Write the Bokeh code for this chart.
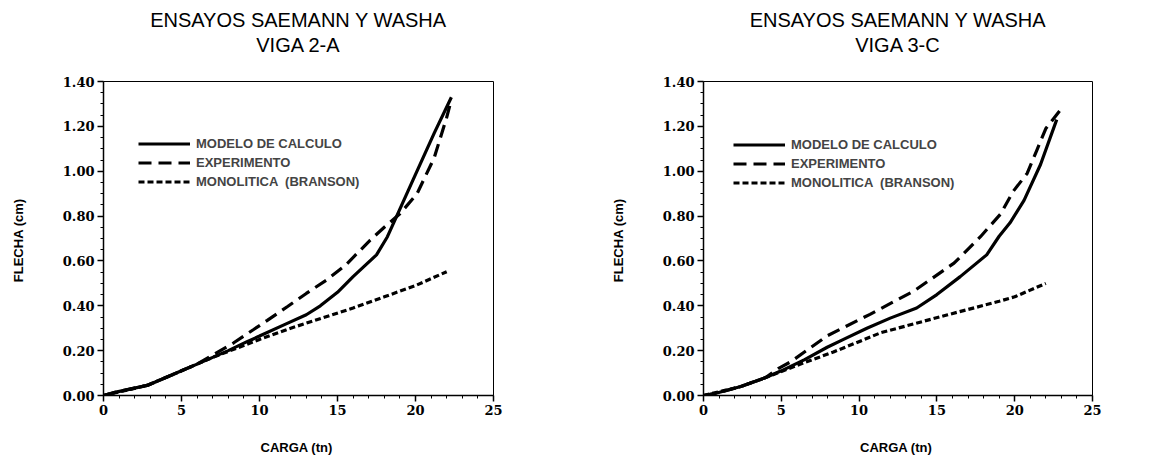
from bokeh.plotting import figure
from bokeh.layouts import row
from bokeh.models import (Range1d, Title, Legend, LegendItem, PrintfTickFormatter, FixedTicker,
                          LinearAxis)
from bokeh.embed import file_html
from bokeh.resources import INLINE

# ---- data: VIGA 2-A ----
a_mod_x = [0, 0.8, 2.8, 4, 5, 6, 7, 8, 9.2, 10, 11.6, 13, 13.9, 15, 16, 17.5, 18.2, 18.6, 19.9, 21.2, 22.3]
a_mod_y = [0, 0.015, 0.045, 0.08, 0.11, 0.14, 0.17, 0.20, 0.24, 0.265, 0.316, 0.36, 0.40, 0.46, 0.53, 0.627, 0.708, 0.77, 0.97, 1.17, 1.33]
a_exp_x = [0, 0.8, 2.8, 4, 5, 6, 7, 8.35, 9.6, 10.5, 11.8, 13, 14.3, 15.5, 17.1, 18, 19, 20.1, 21.2, 22.0, 22.3]
a_exp_y = [0, 0.015, 0.045, 0.08, 0.11, 0.14, 0.18, 0.235, 0.293, 0.335, 0.397, 0.455, 0.515, 0.58, 0.693, 0.75, 0.81, 0.90, 1.06, 1.24, 1.32]
a_bra_x = [0, 2.8, 5, 7, 8.5, 10, 12, 14, 16, 18, 20, 22]
a_bra_y = [0, 0.045, 0.11, 0.17, 0.21, 0.25, 0.30, 0.345, 0.39, 0.44, 0.49, 0.552]

# ---- data: VIGA 3-C ----
c_mod_x = [0, 0.8, 2.4, 4, 5, 6.5, 7.95, 9, 10.5, 12, 13.7, 15, 16.5, 18.2, 19, 19.7, 20.6, 21.66, 22.7]
c_mod_y = [0, 0.01, 0.04, 0.08, 0.11, 0.16, 0.215, 0.25, 0.30, 0.345, 0.39, 0.45, 0.53, 0.627, 0.71, 0.77, 0.87, 1.03, 1.23]
c_exp_x = [0, 0.8, 2.4, 4, 4.8, 5.6, 7.95, 10.7, 13.5, 16.1, 17.8, 19.1, 19.9, 20.8, 21.4, 22.0, 22.9]
c_exp_y = [0, 0.01, 0.04, 0.08, 0.12, 0.15, 0.266, 0.362, 0.465, 0.59, 0.708, 0.81, 0.91, 0.99, 1.09, 1.19, 1.27]
c_bra_x = [0, 2.4, 4, 6, 8.35, 11.4, 15.7, 19, 20, 22.0]
c_bra_y = [0, 0.04, 0.08, 0.134, 0.194, 0.28, 0.36, 0.42, 0.44, 0.50]

x_ticks = [0, 5, 10, 15, 20, 25]
y_ticks = [0.0, 0.2, 0.4, 0.6, 0.8, 1.0, 1.2, 1.4]
labels = ["MODELO DE CALCULO", "EXPERIMENTO", "MONOLITICA  (BRANSON)"]
title_main = "ENSAYOS SAEMANN Y WASHA"
x_label = "CARGA  (tn)"
y_label = "FLECHA  (cm)"

SANS = "Liberation Sans"
SERIF = "DejaVu Serif"


def make(sub, mx, my, ex, ey, bx, by, borders, leg_loc, ylab_standoff):
    bl, br, bt, bb = borders
    p = figure(width=580, height=457, x_range=Range1d(0, 25), y_range=Range1d(0, 1.4),
               output_backend="svg", toolbar_location=None, title=None,
               min_border_left=bl, min_border_right=br, min_border_top=bt, min_border_bottom=bb)
    p.xgrid.visible = False
    p.ygrid.visible = False
    p.outline_line_color = "black"
    p.outline_line_width = 1
    p.background_fill_color = "white"
    p.border_fill_color = "white"

    xa = p.below[0]
    ya = p.left[0]

    # subtitle carried by an invisible axis above the frame, main title above it
    sub_axis = LinearAxis(ticker=FixedTicker(ticks=[], minor_ticks=[]), axis_label=sub,
                          axis_line_color=None, major_tick_line_color=None,
                          minor_tick_line_color=None, major_tick_out=0, major_tick_in=0,
                          minor_tick_out=0, minor_tick_in=0, major_label_standoff=0,
                          major_label_text_font_size="0px",
                          axis_label_standoff=26, axis_label_text_font=SANS,
                          axis_label_text_font_size="20px", axis_label_text_font_style="normal",
                          axis_label_text_color="black")
    p.add_layout(sub_axis, "above")
    p.add_layout(Title(text=title_main, align="center", text_font=SANS,
                       text_font_size="20px", text_font_style="normal", text_color="black",
                       standoff=0), "above")

    xa.ticker = FixedTicker(ticks=x_ticks, minor_ticks=list(range(0, 26)))
    xa.formatter = PrintfTickFormatter(format="%d")
    ya.ticker = FixedTicker(ticks=y_ticks, minor_ticks=[i * 0.05 for i in range(29)])
    ya.formatter = PrintfTickFormatter(format="%.2f")
    for ax in (xa, ya):
        ax.axis_line_color = "black"
        ax.axis_line_width = 1.5
        ax.major_tick_line_color = "black"
        ax.major_tick_line_width = 1.5
        ax.minor_tick_line_color = "black"
        ax.major_tick_out = 6
        ax.major_tick_in = 0
        ax.minor_tick_out = 3
        ax.minor_tick_in = 0
        ax.major_label_text_font = SERIF
        ax.major_label_text_font_style = "bold"
        ax.major_label_text_font_size = "13px"
        ax.major_label_text_color = "black"
        ax.axis_label_text_font = SANS
        ax.axis_label_text_font_style = "bold"
        ax.axis_label_text_font_size = "13px"
        ax.axis_label_text_color = "black"
    xa.axis_label = x_label
    ya.axis_label = y_label
    xa.major_label_standoff = 3
    ya.major_label_standoff = 3
    xa.axis_label_standoff = 22
    ya.axis_label_standoff = ylab_standoff

    r1 = p.line(mx, my, line_color="black", line_width=3.2)
    r2 = p.line(ex, ey, line_color="black", line_width=3.2, line_dash="13 7")
    r3 = p.line(bx, by, line_color="black", line_width=3.2, line_dash="6 3")

    leg = Legend(items=[LegendItem(label=labels[0], renderers=[r1]),
                        LegendItem(label=labels[1], renderers=[r2]),
                        LegendItem(label=labels[2], renderers=[r3])],
                 location=leg_loc, padding=0, spacing=0, margin=0,
                 glyph_width=52, glyph_height=19, label_height=19, label_standoff=6,
                 label_text_font=SANS, label_text_font_style="bold", label_text_font_size="13px",
                 border_line_color=None, background_fill_alpha=0)
    p.add_layout(leg)
    return p


p1 = make("VIGA 2-A", a_mod_x, a_mod_y, a_exp_x, a_exp_y, a_bra_x, a_bra_y,
          (103, 87, 81, 61), (35, 204), 34)
p2 = make("VIGA 3-C", c_mod_x, c_mod_y, c_exp_x, c_exp_y, c_bra_x, c_bra_y,
          (123, 68, 80, 60), (30, 203), 34)

layout = row(p1, p2)
open("out.html", "w").write(file_html(layout, INLINE))
